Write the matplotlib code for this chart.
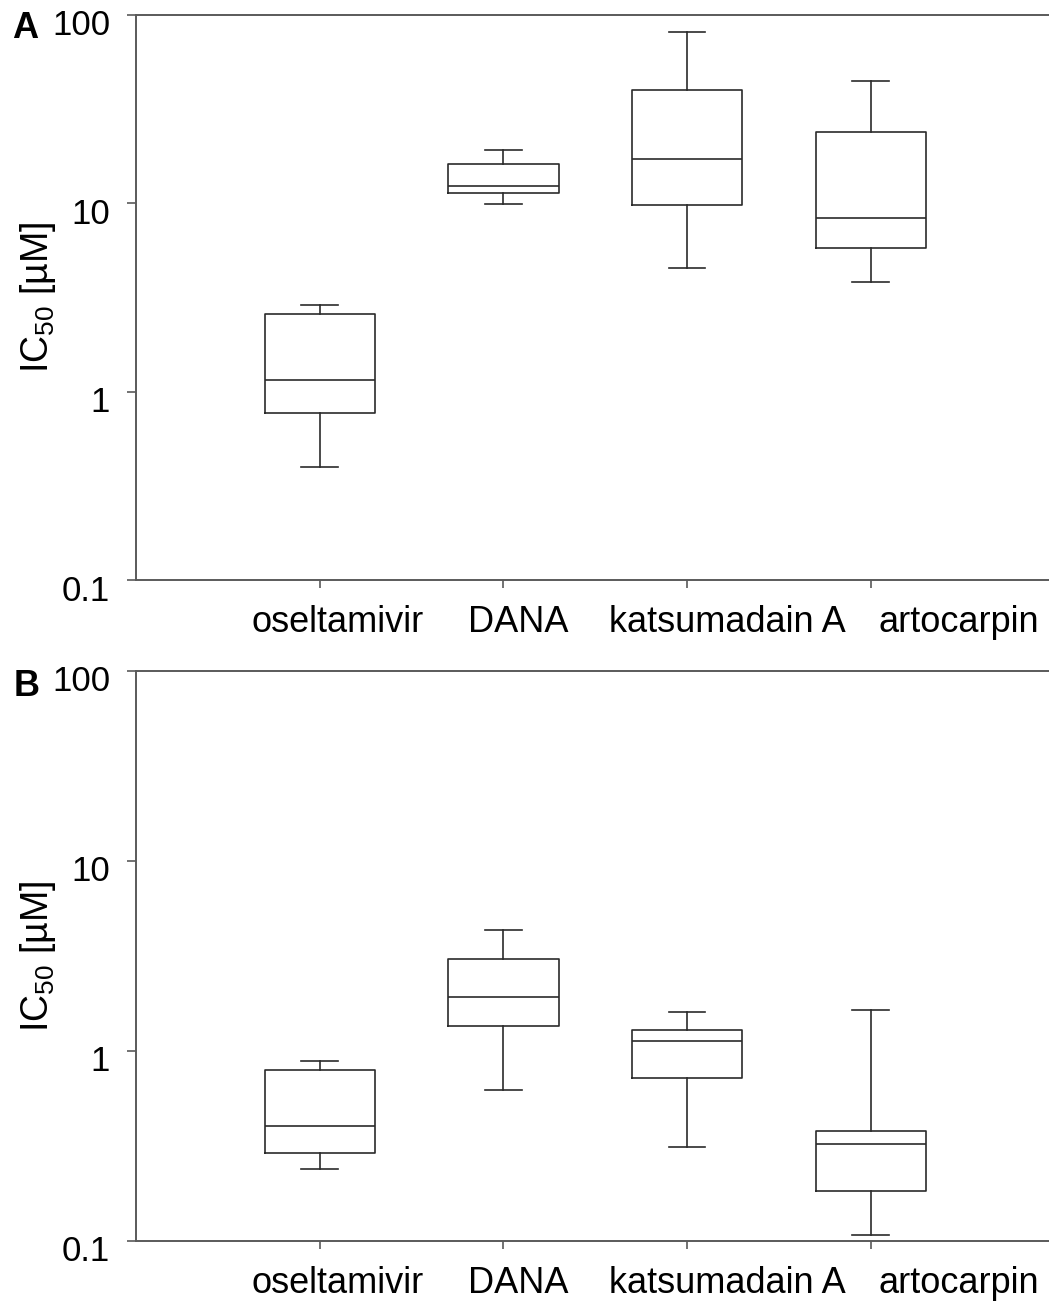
import matplotlib
matplotlib.use("Agg")
import matplotlib.pyplot as plt
from matplotlib.transforms import ScaledTranslation

plt.rcParams["font.family"] = ["Liberation Sans", "DejaVu Sans"]
plt.rcParams["mathtext.fontset"] = "custom"
plt.rcParams["mathtext.rm"] = "Liberation Sans"

# ── data (IC50 in µM) ───────────────────────────────────────────────────────
compounds = ["oseltamivir", "DANA", "katsumadain A", "artocarpin"]
ytick_vals = [0.1, 1, 10, 100]
ytick_text = ["0.1", "1", "10", "100"]

# panel A
a_whislo = [0.40, 9.9, 4.55, 3.82]
a_q1     = [0.77, 11.4, 9.8, 5.77]
a_med    = [1.15, 12.4, 17.1, 8.38]
a_q3     = [2.59, 16.1, 40.0, 24.0]
a_whishi = [2.89, 19.2, 81.0, 44.6]

# panel B
b_whislo = [0.240, 0.623, 0.313, 0.107]
b_q1     = [0.291, 1.357, 0.718, 0.184]
b_med    = [0.402, 1.92, 1.13, 0.325]
b_q3     = [0.794, 3.04, 1.28, 0.378]
b_whishi = [0.885, 4.31, 1.60, 1.65]

# label centres (the labels in the original sit a bit right of the ticks)
label_pos = [1.10, 2.08, 3.22, 4.48]

LINE = "#2b2b2b"
SPINE = "#5a5a5a"


def draw_panel(ax, whislo, q1, med, q3, whishi):
    stats = []
    for i, name in enumerate(compounds):
        stats.append(dict(label=name, whislo=whislo[i], q1=q1[i], med=med[i],
                          q3=q3[i], whishi=whishi[i], fliers=[]))
    ax.bxp(stats, positions=[1, 2, 3, 4], widths=0.6, showfliers=False,
           boxprops=dict(color=LINE, lw=1.2),
           medianprops=dict(color=LINE, lw=1.2),
           whiskerprops=dict(color=LINE, lw=1.2),
           capprops=dict(color=LINE, lw=1.2),
           capwidths=0.2)
    ax.set_yscale("log")
    ax.set_ylim(0.1, 100)
    ax.set_xlim(0, 4.97)
    ax.set_yticks(ytick_vals)
    ax.set_yticklabels([])
    ax.set_xticklabels([])
    ax.minorticks_off()
    ax.tick_params(axis="y", length=6.5, width=1.2, color=SPINE)
    ax.tick_params(axis="x", length=6, width=1.2, color=SPINE)
    for s in ["left", "top", "bottom"]:
        ax.spines[s].set_color(SPINE)
        ax.spines[s].set_linewidth(1.4)
    ax.spines["right"].set_visible(False)

    # y tick labels: digits hang just below their tick
    ytrans = ax.get_yaxis_transform() + ScaledTranslation(0, -0.11, fig.dpi_scale_trans)
    for v, t in zip(ytick_vals, ytick_text):
        ax.text(-0.0285, v, t, transform=ytrans, ha="right", va="center",
                fontsize=25, clip_on=False)

    # category labels
    xtrans = ax.get_xaxis_transform() + ScaledTranslation(0, -0.52, fig.dpi_scale_trans)
    for x, name in zip(label_pos, compounds):
        ax.text(x, 0, name, transform=xtrans, ha="center", va="baseline",
                fontsize=26, clip_on=False)

    ax.set_ylabel(r"IC$_{\mathregular{50}}$ [µM]", fontsize=27)
    ax.yaxis.set_label_coords(-0.086, 0.5)


fig = plt.figure(figsize=(10.49, 13.02), dpi=100)
axA = fig.add_axes([0.1297, 0.5545, 0.8703, 0.4340])
axB = fig.add_axes([0.1297, 0.0469, 0.8703, 0.4380])

draw_panel(axA, a_whislo, a_q1, a_med, a_q3, a_whishi)
draw_panel(axB, b_whislo, b_q1, b_med, b_q3, b_whishi)

fig.text(12 / 1049, 1 - 28 / 1302, "A", fontsize=26, fontweight="bold",
         ha="left", va="center")
fig.text(14 / 1049, 1 - 686 / 1302, "B", fontsize=26, fontweight="bold",
         ha="left", va="center")

fig.savefig("out.png", dpi=100)
